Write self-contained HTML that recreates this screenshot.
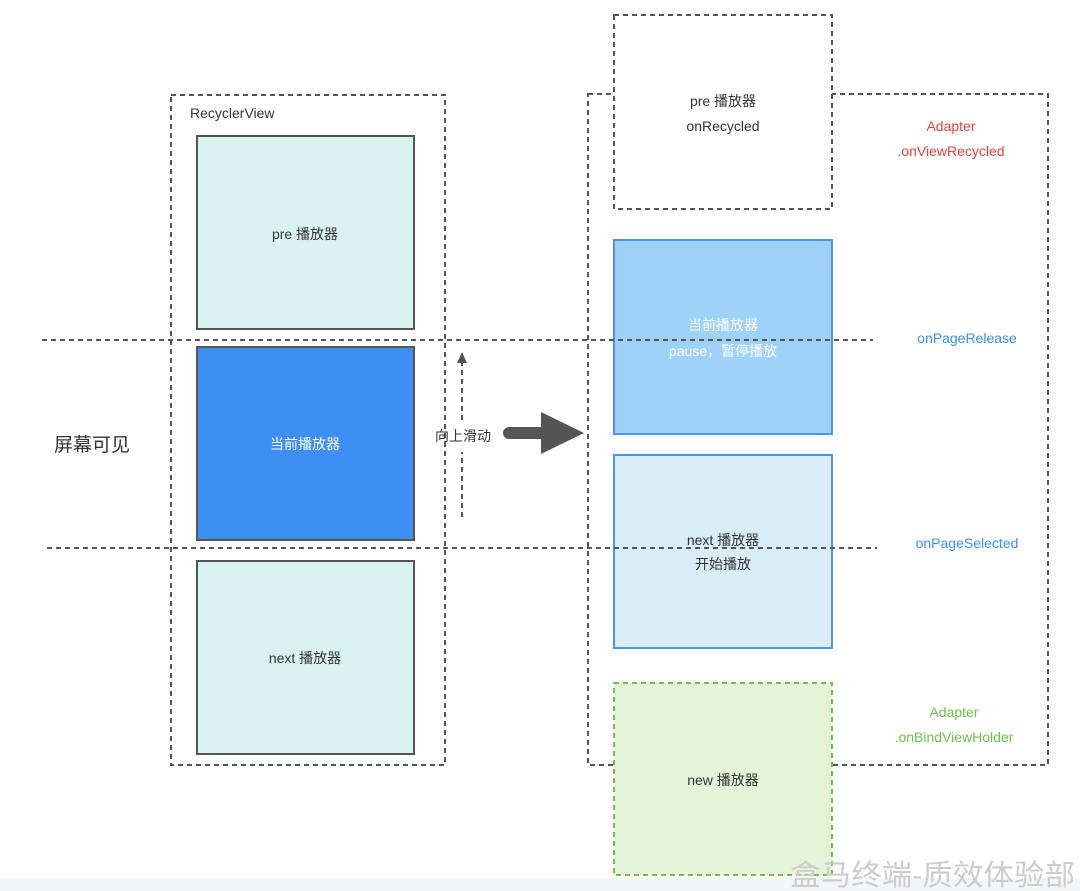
<!DOCTYPE html>
<html><head><meta charset="utf-8"><style>
html,body{margin:0;padding:0;background:#fff;}
svg{display:block;}
text{font-family:"Liberation Sans","Noto Sans CJK SC",sans-serif;}
</style></head><body>
<svg width="1080" height="891" viewBox="0 0 1080 891" xmlns="http://www.w3.org/2000/svg">
<rect width="1080" height="891" fill="#fff"/>
<rect x="0" y="878" width="1080" height="13" fill="#f4f5f7"/>
<g fill="none" stroke="#555" stroke-width="2" stroke-dasharray="5,4">
<rect x="171" y="95" width="274" height="670"/>
<rect x="588" y="94" width="460" height="671"/>
<line x1="462" y1="420" x2="462" y2="362"/>
<line x1="462" y1="517" x2="462" y2="452"/>
</g>
<polygon points="462,352 457,363 467,363" fill="#555"/>
<rect x="614" y="15" width="218" height="194" fill="#fff" stroke="#555" stroke-width="2" stroke-dasharray="5,4"/>
<rect x="197" y="136" width="217" height="193" fill="#d9f4ef" stroke="#555" stroke-width="2"/>
<rect x="197" y="347" width="217" height="193" fill="#3d8ff4" stroke="#555" stroke-width="2"/>
<rect x="197" y="561" width="217" height="193" fill="#d9f4ef" stroke="#555" stroke-width="2"/>
<rect x="614" y="240" width="218" height="194" fill="#9ed2fa" stroke="#4a93ee" stroke-width="2"/>
<rect x="614" y="455" width="218" height="193" fill="#d8ecfa" stroke="#4a93ee" stroke-width="2"/>
<rect x="614" y="683" width="218" height="192" fill="#e5f4d8" stroke="#6cc24a" stroke-width="2" stroke-dasharray="5,4"/>
<g stroke="#555" stroke-width="2" stroke-dasharray="5,4" fill="none">
<line x1="42" y1="340" x2="873" y2="340"/>
<line x1="47" y1="548" x2="877" y2="548"/>
</g>
<line x1="509" y1="433" x2="545" y2="433" stroke="#555" stroke-width="12" stroke-linecap="round"/>
<polygon points="541,412 584,433 541,454" fill="#555"/>
<g font-size="14" fill="#333" text-anchor="middle">
<text x="190" y="118" text-anchor="start">RecyclerView</text>
<text x="305" y="239">pre 播放器</text>
<text x="305" y="449" fill="#fff">当前播放器</text>
<text x="305" y="663">next 播放器</text>
<text x="463" y="441">向上滑动</text>
<text x="723" y="106">pre 播放器</text>
<text x="723" y="131">onRecycled</text>
<text x="723" y="330" fill="#fff">当前播放器</text>
<text x="723" y="356" fill="#fff">pause，暂停播放</text>
<text x="723" y="545">next 播放器</text>
<text x="723" y="569">开始播放</text>
<text x="723" y="785">new 播放器</text>
<text x="951" y="131" fill="#e8403a">Adapter</text>
<text x="951" y="156" fill="#e8403a">.onViewRecycled</text>
<text x="967" y="343" fill="#3a8ff0">onPageRelease</text>
<text x="967" y="548" fill="#3a8ff0">onPageSelected</text>
<text x="954" y="717" fill="#6cc24a">Adapter</text>
<text x="954" y="742" fill="#6cc24a">.onBindViewHolder</text>
</g>
<text x="54" y="451" font-size="19" fill="#333">屏幕可见</text>
<text x="790" y="885" font-size="29" fill="#ccc" textLength="285" lengthAdjust="spacingAndGlyphs">盒马终端-质效体验部</text>
</svg>
</body></html>
